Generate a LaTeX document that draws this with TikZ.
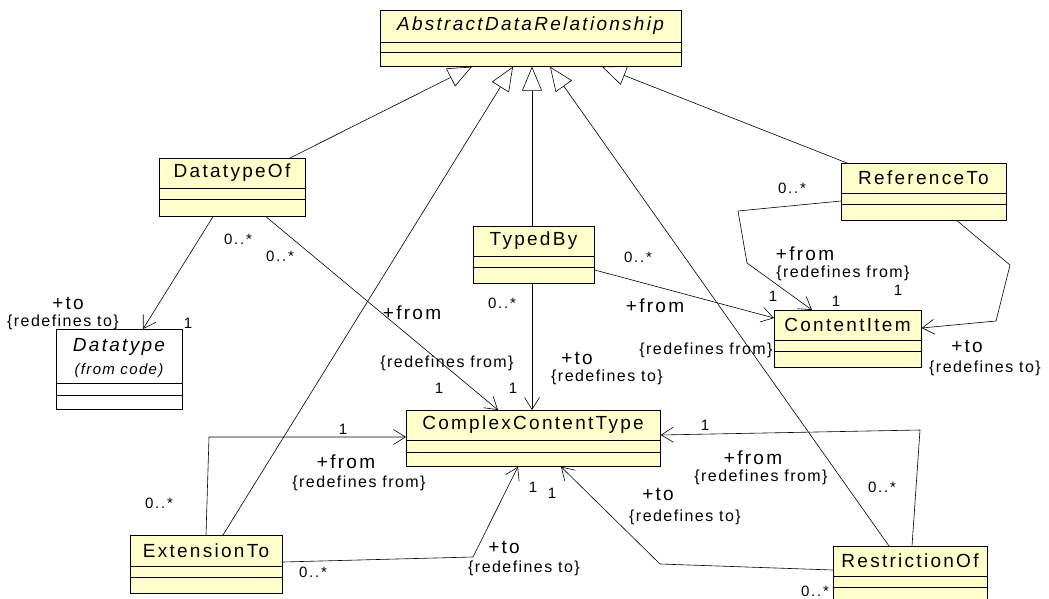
\documentclass[tikz,border=0pt]{standalone}
\usepackage{fontspec}
\newfontfamily\umlfont{Liberation Sans}[LetterSpace=12]
\newfontfamily\umlnotefont{Liberation Sans}[LetterSpace=9]
\newfontfamily\umlmultfont{Liberation Sans}[LetterSpace=12]
\usetikzlibrary{arrows.meta}
\definecolor{clsfill}{RGB}{255,255,204}
\newcommand\umlbox[8]{%
  \node[clsbox, fill=#8, minimum width={(#4-#2)*1pt}, minimum height={(#5-#3)*1pt}, anchor=north west] (#1) at (#2,#3) {};
  \draw[line width=0.7pt] (#1.west |- 0,#6) -- (#1.east |- 0,#6);
  \draw[line width=0.7pt] (#1.west |- 0,#7) -- (#1.east |- 0,#7);
  \draw[line width=1.4pt] (#1.north east) -- (#1.south east) -- (#1.south west);
}
\begin{document}
\begin{tikzpicture}[x=1pt, y=-1pt,
  conn/.style={line width=0.6pt, draw=black},
  assoc/.style={conn, -{Straight Barb[length=12pt,width=15pt,line width=0.6pt]}},
  gen/.style={conn, -{Triangle[open,length=24pt,width=20pt,line width=0.6pt]}},
  clsbox/.style={draw=black, line width=0.7pt, inner sep=0pt},
  cname/.style={font=\umlfont\fontsize{19}{22}\selectfont, inner sep=0pt},
  role/.style={font=\umlfont\fontsize{19}{22}\selectfont, inner sep=0pt},
  note/.style={font=\umlnotefont\fontsize{16}{18}\selectfont, inner sep=0pt},
  mult/.style={font=\umlmultfont\fontsize{15}{17}\selectfont, inner sep=0pt}]
\useasboundingbox (0,0) rectangle (1049,599);

% classes
\umlbox{abs}{380}{10}{681}{66}{42}{52}{clsfill}
\node[cname, font=\umlfont\itshape\fontsize{19}{22}\selectfont] (abs-t) at (530.5,26) {AbstractDataRelationship};
\umlbox{dto}{159}{158}{305}{216}{188}{199}{clsfill}
\node[cname] (dto-t) at (232,173) {DatatypeOf};
\umlbox{tb}{473}{226}{594}{283}{256}{267}{clsfill}
\node[cname] (tb-t) at (533.5,241) {TypedBy};
\umlbox{ref}{841}{163}{1006}{220}{193}{204}{clsfill}
\node[cname] (ref-t) at (923.5,178) {ReferenceTo};
\umlbox{ci}{774}{310}{921}{367}{340}{351}{clsfill}
\node[cname] (ci-t) at (847.5,325) {ContentItem};
\umlbox{dt}{56}{329}{182}{409}{383}{395}{white}
\node[cname, font=\umlfont\itshape\fontsize{19}{22}\selectfont] (dt-t) at (119,346.5) {Datatype};
\node[cname, font=\umlnotefont\itshape\fontsize{15}{17}\selectfont] (dt-s) at (119,371) {(from code)};
\umlbox{cct}{406}{410}{660}{466}{440}{452}{clsfill}
\node[cname] (cct-t) at (533,425) {ComplexContentType};
\umlbox{ext}{130}{535}{282}{593}{566}{577}{clsfill}
\node[cname] (ext-t) at (206,550.5) {ExtensionTo};
\umlbox{res}{833}{546}{987}{603}{576}{587}{clsfill}
\node[cname] (res-t) at (910,561) {RestrictionOf};

% generalizations
\draw[gen] (dto.north -| 290,0) -- (abs.south -| 472,0);
\draw[gen] (ext.north -| 223,0) -- (abs.south -| 513,0);
\draw[gen] (tb.north -| 532,0) -- (abs.south -| 532,0);
\draw[gen] (res.north -| 889,0) -- (abs.south -| 550,0);
\draw[gen] (ref.north -| 847,0) -- (abs.south -| 602,0);

% associations
\draw[assoc] (dto.south -| 213,0) -- (dt.north -| 143,0);
\draw[assoc] (dto.south -| 266,0) -- (cct.north -| 498,0);
\draw[assoc] (tb.south -| 532,0) -- (cct.north -| 532,0);
\draw[assoc] (tb.east |- 0,270) -- (ci.west |- 0,318);
\draw[assoc] (ref.west |- 0,201) -- (738,211) -- (747,263) -- (ci.north -| 812,0);
\draw[assoc] (ref.south -| 957,0) -- (1010,265) -- (996,321) -- (ci.east |- 0,328);
\draw[assoc] (ext.north -| 206,0) -- (209,437) -- (cct.west |- 0,437);
\draw[assoc] (ext.east |- 0,562) -- (473,557) -- (cct.south -| 518,0);
\draw[assoc] (res.north -| 912,0) -- (920,430) -- (cct.east |- 0,435);
\draw[assoc] (res.west |- 0,570) -- (660,564) -- (cct.south -| 561,0);

% labels: DatatypeOf -> Datatype
\node[mult] (m1a) at (238,239) {0..*};
\node[role] (r1) at (68,303) {+to};
\node[note] (n1) at (63,322) {\{redefines to\}};
\node[mult] (m1b) at (188,323) {1};
% DatatypeOf -> ComplexContentType
\node[mult] (m2a) at (280,256) {0..*};
\node[role] (r2) at (412,313) {+from};
\node[note] (n2) at (447,363) {\{redefines from\}};
\node[mult] (m2b) at (439,388) {1};
% TypedBy -> ComplexContentType
\node[mult] (m3a) at (502,303) {0..*};
\node[role] (r3) at (577,358) {+to};
\node[note] (n3) at (607,377) {\{redefines to\}};
\node[mult] (m3b) at (513,388) {1};
% TypedBy -> ContentItem
\node[mult] (m4a) at (638,257) {0..*};
\node[role] (r4) at (655,306) {+from};
\node[note] (n4) at (706,350) {\{redefines from\}};
\node[mult] (m4b) at (773,296) {1};
% ReferenceTo -> ContentItem (from)
\node[mult] (m5a) at (792,188) {0..*};
\node[role] (r5) at (805,254) {+from};
\node[note] (n5) at (843,273) {\{redefines from\}};
\node[mult] (m5b) at (836,301) {1};
% ReferenceTo -> ContentItem (to)
\node[mult] (m6b) at (898,290) {1};
\node[role] (r6) at (967,346) {+to};
\node[note] (n6) at (985,368) {\{redefines to\}};
% ExtensionTo -> ComplexContentType (from)
\node[mult] (m7b) at (343,429) {1};
\node[role] (r7) at (346,462) {+from};
\node[note] (n7) at (359,483) {\{redefines from\}};
\node[mult] (m7a) at (159,503) {0..*};
% ExtensionTo -> ComplexContentType (to)
\node[mult] (m8a) at (313,572) {0..*};
\node[role] (r8) at (504,547) {+to};
\node[note] (n8) at (524,568) {\{redefines to\}};
\node[mult] (m8b) at (533,487) {1};
% RestrictionOf -> ComplexContentType (from)
\node[mult] (m9b) at (705,425) {1};
\node[role] (r9) at (753,458) {+from};
\node[note] (n9) at (761,477) {\{redefines from\}};
\node[mult] (m9a) at (882,487) {0..*};
% RestrictionOf -> ComplexContentType (to)
\node[mult] (m10b) at (552,493) {1};
\node[role] (r10) at (658,494) {+to};
\node[note] (n10) at (685,517) {\{redefines to\}};
\node[mult] (m10a) at (815,591) {0..*};
\end{tikzpicture}
\end{document}
